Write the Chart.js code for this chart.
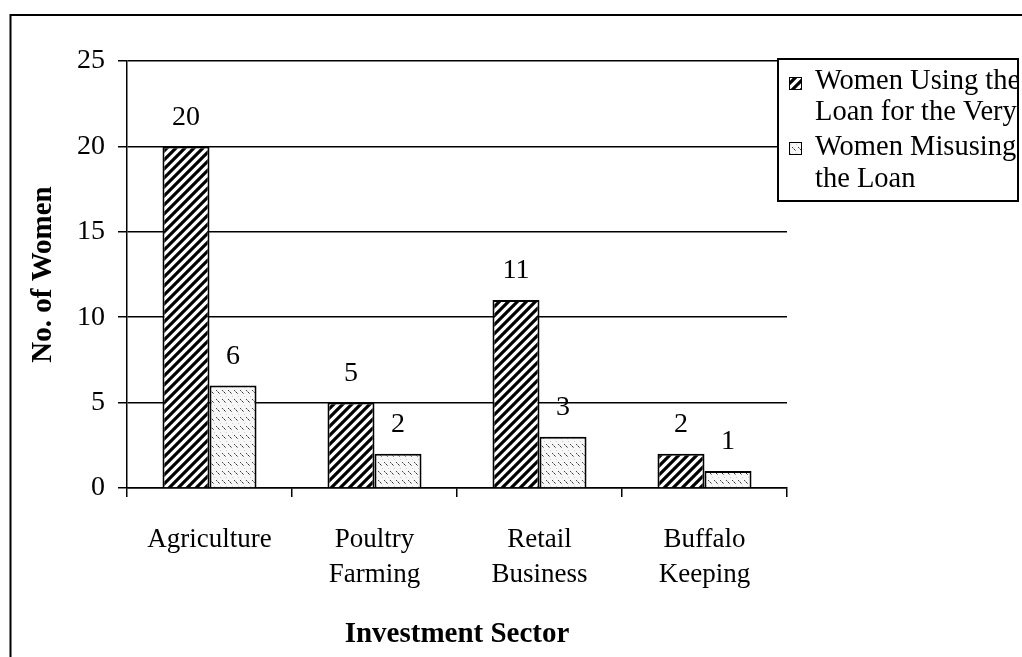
<!DOCTYPE html>
<html>
<head>
<meta charset="utf-8">
<script src="https://cdn.jsdelivr.net/npm/chart.js@4"></script>
<style>
  html, body { margin: 0; padding: 0; background: #fff; overflow: hidden; }
</style>
</head>
<body>
<canvas id="chart" width="1022" height="657"></canvas>
<script>
// --- DATA ---
const sectors = [['Agriculture'], ['Poultry', 'Farming'], ['Retail', 'Business'], ['Buffalo', 'Keeping']];
const usingLoan = [20, 5, 11, 2];
const misusingLoan = [6, 2, 3, 1];
const seriesNames = ['Women Using the Loan for the Very', 'Women Misusing the Loan'];
const legendLines = [['Women Using the', 'Loan for the Very'], ['Women Misusing', 'the Loan']];
const yMin = 0, yMax = 25, yStep = 5;

const SERIF = '"Liberation Serif", "Times New Roman", serif';

// --- PATTERNS ---
function hatchPattern() {
    const c = document.createElement('canvas');
    c.width = 9; c.height = 9;
    const g = c.getContext('2d');
    g.fillStyle = '#fff';
    g.fillRect(0, 0, 9, 9);
    g.strokeStyle = '#000';
    g.lineWidth = 3.2;
    g.beginPath();
    for (let k = -1; k <= 1; k++) {
        g.moveTo(k * 9 - 2, 9 + 2);
        g.lineTo(k * 9 + 9 + 2, -2);
    }
    g.stroke();
    return g.createPattern(c, 'repeat');
}

function dottedPattern() {
    const c = document.createElement('canvas');
    c.width = 6; c.height = 9;
    const g = c.getContext('2d');
    g.fillStyle = '#f7f7f7';
    g.fillRect(0, 0, 6, 9);
    // rows of short "\" dashes, dotted
    const px = [[0, 3, '#444'], [1, 4, '#999'], [2, 5, '#333'], [3, 6, '#888']];
    px.forEach(([x, y, col]) => {
        g.fillStyle = col;
        g.fillRect(x, y, 1, 1);
    });
    g.fillStyle = '#ccc';
    g.fillRect(4, 0, 1, 1);
    return g.createPattern(c, 'repeat');
}

const fillUsing = hatchPattern();
const fillMisusing = dottedPattern();

// --- PLUGINS ---
const pageFrame = {
    id: 'pageFrame',
    beforeDraw(chart) {
        const ctx = chart.ctx;
        ctx.save();
        ctx.fillStyle = '#fff';
        ctx.fillRect(0, 0, chart.width, chart.height);
        ctx.strokeStyle = '#000';
        ctx.lineWidth = 2;
        ctx.strokeRect(10.5, 15, 1100, 1000);
        ctx.restore();
    }
};

const valueLabels = {
    id: 'valueLabels',
    afterDatasetsDraw(chart) {
        const ctx = chart.ctx;
        ctx.save();
        ctx.font = '28px ' + SERIF;
        ctx.fillStyle = '#000';
        ctx.textAlign = 'center';
        ctx.textBaseline = 'middle';
        chart.data.datasets.forEach((ds, i) => {
            chart.getDatasetMeta(i).data.forEach((bar, j) => {
                ctx.fillText(String(ds.data[j]), bar.x, bar.y - 29);
            });
        });
        ctx.restore();
    }
};

const boxLegend = {
    id: 'boxLegend',
    afterDraw(chart) {
        const ctx = chart.ctx;
        const box = { l: 778, t: 59, r: 1018, b: 201 };
        ctx.save();
        ctx.fillStyle = '#fff';
        ctx.fillRect(box.l, box.t, box.r - box.l, box.b - box.t);
        ctx.strokeStyle = '#000';
        ctx.lineWidth = 2;
        ctx.strokeRect(box.l, box.t, box.r - box.l, box.b - box.t);

        ctx.beginPath();
        ctx.rect(box.l + 1, box.t + 1, box.r - box.l - 2, box.b - box.t - 2);
        ctx.clip();

        const lineYs = [[82, 113], [148, 180]];
        const swatchY = [77, 142];
        chart.data.datasets.forEach((ds, i) => {
            ctx.fillStyle = ds.backgroundColor;
            ctx.fillRect(789, swatchY[i], 12, 12);
            ctx.strokeStyle = '#000';
            ctx.lineWidth = 1;
            ctx.strokeRect(789.5, swatchY[i] + 0.5, 12, 12);
            ctx.fillStyle = '#000';
            ctx.font = '28.5px ' + SERIF;
            ctx.textAlign = 'left';
            ctx.textBaseline = 'middle';
            legendLines[i].forEach((ln, k) => ctx.fillText(ln, 815, lineYs[i][k]));
        });
        ctx.restore();
    }
};

// --- CHART ---
new Chart(document.getElementById('chart'), {
    type: 'bar',
    data: {
        labels: sectors,
        datasets: [
            { label: seriesNames[0], data: usingLoan, backgroundColor: fillUsing, borderColor: '#000', borderWidth: 2 },
            { label: seriesNames[1], data: misusingLoan, backgroundColor: fillMisusing, borderColor: '#000', borderWidth: 2 }
        ]
    },
    options: {
        responsive: false,
        animation: false,
        devicePixelRatio: 1,
        events: [],
        layout: { padding: { top: 61, right: 235, bottom: 0, left: 0 } },
        datasets: { bar: { categoryPercentage: 0.57, barPercentage: 1.0 } },
        plugins: {
            legend: { display: false },
            tooltip: { enabled: false }
        },
        scales: {
            x: {
                offset: true,
                grid: { offset: true, drawOnChartArea: false, drawTicks: true, tickLength: 9, color: '#000', lineWidth: 1.5 },
                border: { display: true, color: '#000', width: 1.5 },
                ticks: {
                    color: '#000', font: { family: SERIF, size: 27, lineHeight: 1.3 },
                    padding: 25, maxRotation: 0, autoSkip: false
                },
                title: {
                    display: true, text: 'Investment Sector', color: '#000',
                    font: { family: SERIF, size: 29, weight: 'bold' },
                    padding: { top: 0, bottom: 5 }
                },
                afterFit(scale) { scale.height = 169; }
            },
            y: {
                min: yMin, max: yMax,
                grid: { color: '#000', lineWidth: 1.5, tickLength: 9 },
                border: { display: true, color: '#000', width: 1.5 },
                ticks: {
                    stepSize: yStep, color: '#000', padding: 13,
                    font: { family: SERIF, size: 28 }
                },
                title: {
                    display: true, text: 'No. of Women', color: '#000',
                    font: { family: SERIF, size: 29, weight: 'bold' },
                    padding: { top: 26, bottom: 0 }
                },
                afterFit(scale) { scale.width = 127; }
            }
        }
    },
    plugins: [pageFrame, valueLabels, boxLegend]
});
</script>
</body>
</html>
